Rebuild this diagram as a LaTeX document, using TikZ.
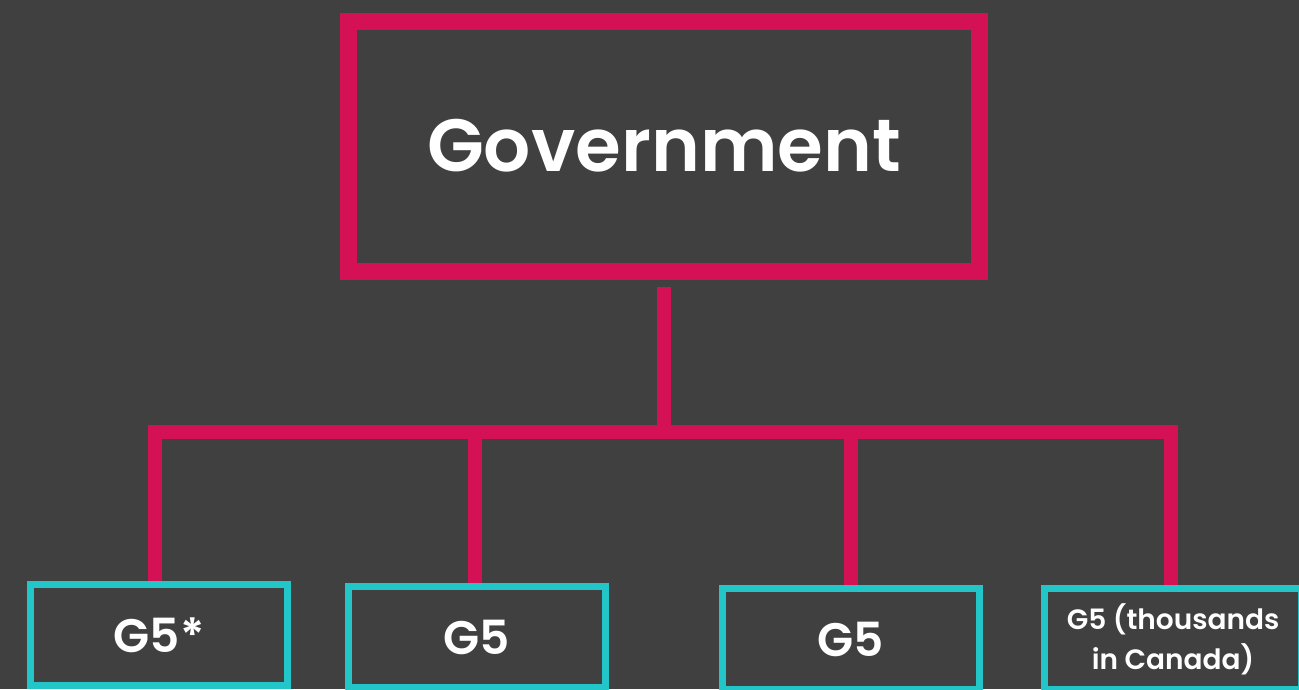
\documentclass[tikz,border=0pt]{standalone}
\usepackage{fontspec}
\setmainfont{Poppins}[BoldFont={Poppins SemiBold}]
\definecolor{bgdark}{HTML}{404040}
\definecolor{govpink}{HTML}{D41155}
\definecolor{unitcyan}{HTML}{22C6C9}

\begin{document}
\begin{tikzpicture}[x=1pt,y=-1pt]
    \tikzstyle{topbox}=[rectangle,draw=govpink,line width=17pt,minimum width=631pt,minimum height=250pt,text=white,font=\bfseries\fontsize{74}{80}\selectfont]
    \tikzstyle{unitbox}=[rectangle,draw=unitcyan,line width=7pt,minimum width=257pt,minimum height=101pt,text=white,align=center,font=\bfseries\fontsize{47}{52}\selectfont]
    \tikzstyle{smalltext}=[font=\bfseries\fontsize{28}{40}\selectfont]
    \tikzstyle{link}=[govpink,line width=14pt]
    \fill [bgdark] (0,0) rectangle (1299,689);
    \useasboundingbox (0,0) rectangle (1299,689);
    \node (gov)   at (664,146)  [topbox]  {Government};
    \node (unit1) at (159,635)  [unitbox] {G5*};
    \node (unit2) at (477,637)  [unitbox] {G5};
    \node (unit3) at (851,639)  [unitbox] {G5};
    \node (unit4) at (1173,639) [unitbox,smalltext] {G5 (thousands\\in Canada)};
    \coordinate (bus) at (664,432);
    \draw [link] ([yshift=-7pt]gov.south) -- ([yshift=7pt]bus);
    \draw [link] ([xshift=-11pt]unit1.north |- bus) -- ([xshift=5pt]unit4.north |- bus);
    \draw [link] ([xshift=-4pt]unit1.north |- bus) -- ([xshift=-4pt]unit1.north);
    \draw [link] ([xshift=-2pt]unit2.north |- bus) -- ([xshift=-2pt]unit2.north);
    \draw [link] (unit3.north |- bus) -- (unit3.north);
    \draw [link] ([xshift=-2pt]unit4.north |- bus) -- ([xshift=-2pt]unit4.north);
\end{tikzpicture}
\end{document}
